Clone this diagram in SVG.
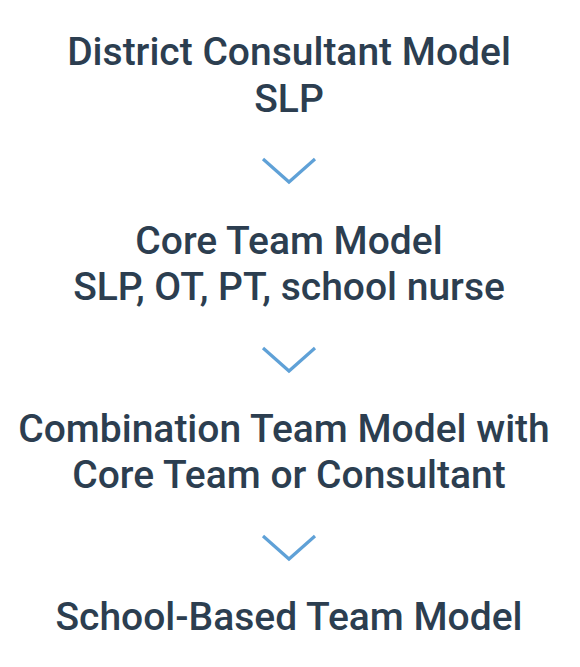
<svg xmlns="http://www.w3.org/2000/svg" width="580" height="667" viewBox="0 0 580 667">
<style>
.t{font-family:Roboto,"Liberation Sans",sans-serif;font-size:39px;font-weight:500;fill:#2c3e50;text-anchor:middle}
.c{fill:none;stroke:#5fa1d7;stroke-width:3.2;stroke-linecap:butt;stroke-linejoin:miter}
</style>
<rect width="580" height="667" fill="#ffffff"/>
<g id="node1"><text class="t" x="289" y="65">District Consultant Model</text><text class="t" x="289" y="111.5">SLP</text></g>
<g id="node2"><text class="t" x="289" y="253.5">Core Team Model</text><text class="t" x="289" y="300">SLP, OT, PT, school nurse</text></g>
<g id="node3"><text class="t" x="284" y="441.5">Combination Team Model with</text><text class="t" x="289" y="488">Core Team or Consultant</text></g>
<g id="node4"><text class="t" x="289" y="629.5">School-Based Team Model</text></g>
<g id="connectors">
<path class="c" d="M263,159 L289,182 L315,159"/>
<path class="c" d="M263,348 L289,371 L315,348"/>
<path class="c" d="M263,536 L289,559 L315,536"/>
</g>
</svg>
